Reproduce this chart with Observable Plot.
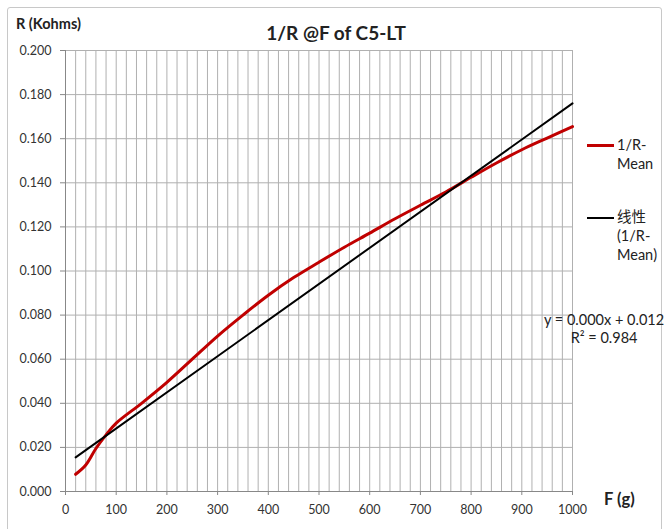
<!DOCTYPE html>
<html>
<head>
<meta charset="utf-8">
<script src="https://cdn.jsdelivr.net/npm/d3@7"></script>
<script src="https://cdn.jsdelivr.net/npm/@observablehq/plot@0.6"></script>
<style>
  html, body { margin: 0; padding: 0; background: #fff; }
  #wrap { position: relative; width: 665px; height: 529px; overflow: hidden; font-family: Lato, "Noto Sans CJK SC", sans-serif; color: #222; }
  #frame { position: absolute; left: 7px; top: 7px; width: 655px; height: 540px; border: 1px solid #c8c8c8; border-radius: 3px; box-sizing: border-box; }
  .abs { position: absolute; white-space: nowrap; }
  #title { left: 0; width: 672px; top: 21px; text-align: center; font-weight: bold; font-size: 19px; }
  #ylab { left: 16px; top: 15px; font-weight: bold; font-size: 14.5px; }
  #xlab { left: 604px; top: 489px; font-weight: bold; font-size: 16.5px; }
  .leg { font-size: 14.5px; line-height: 19px; }
  .sw { position: absolute; height: 0; }
  #eq { left: 544px; top: 311px; font-size: 14.5px; line-height: 18px; text-align: center; }
  svg { position: absolute; left: 0; top: 0; }
</style>
</head>
<body>
<div id="wrap">
  <div id="frame"></div>
</div>
<script>
const forceG = [20, 40, 60, 80, 100, 150, 200, 250, 300, 350, 400, 450, 500, 550, 600, 650, 700, 750, 800, 850, 900, 950, 1000];
const invRMean = [0.0078, 0.0120, 0.0195, 0.0257, 0.0310, 0.0400, 0.0495, 0.0600, 0.0705, 0.0800, 0.0890, 0.0970, 0.1040, 0.1108, 0.1172, 0.1237, 0.1298, 0.1358, 0.1425, 0.1490, 0.1550, 0.1603, 0.1655];
// Linear trend line end points
const trendF = [20, 1000];
const trendR = [0.0155, 0.1760];
// Tick labels
const xTicks = [0, 100, 200, 300, 400, 500, 600, 700, 800, 900, 1000];
const yTicks = [0.000, 0.020, 0.040, 0.060, 0.080, 0.100, 0.120, 0.140, 0.160, 0.180, 0.200];
const xGrid = d3.range(0, 1001, 20);

const meanData = forceG.map((f, i) => ({f, r: invRMean[i]}));
const trendData = trendF.map((f, i) => ({f, r: trendR[i]}));

const chart = Plot.plot({
  width: 665,
  height: 529,
  marginLeft: 65,
  marginRight: 93,
  marginTop: 50,
  marginBottom: 38,
  style: {fontFamily: "Lato, sans-serif", fontSize: "12.5px", color: "#333", background: "transparent"},
  x: {domain: [0, 1000]},
  y: {domain: [0, 0.2]},
  marks: [
    Plot.gridX(xGrid, {stroke: "#b0b0b0", strokeOpacity: 1, strokeWidth: 1}),
    Plot.gridY(yTicks, {stroke: "#b0b0b0", strokeOpacity: 1, strokeWidth: 1}),
    Plot.axisY(yTicks, {tickFormat: d3.format(".3f"), tickSize: 5, tickPadding: 9, stroke: "#888", label: null, fill: "#333"}),
    Plot.axisX(xTicks, {tickFormat: d => String(d), tickSize: 4, tickPadding: 10, stroke: "#888", label: null, fill: "#333"}),
    Plot.ruleY([0], {stroke: "#888", strokeWidth: 1}),
    Plot.ruleX([0], {stroke: "#888", strokeWidth: 1}),
    Plot.line(meanData, {x: "f", y: "r", stroke: "#c00000", strokeWidth: 3, curve: "catmull-rom"}),
    Plot.line(trendData, {x: "f", y: "r", stroke: "#000", strokeWidth: 2})
  ]
});

const wrap = document.getElementById("wrap");
wrap.appendChild(chart);

function addDiv(id, cls, html, style) {
  const d = document.createElement("div");
  if (id) d.id = id;
  d.className = cls;
  d.innerHTML = html;
  if (style) Object.assign(d.style, style);
  wrap.appendChild(d);
  return d;
}
addDiv("title", "abs", "1/R @F of C5-LT");
addDiv("ylab", "abs", "R (Kohms)");
addDiv("xlab", "abs", "F (g)");
// legend
addDiv(null, "sw", "", {left: "587px", top: "144px", width: "27px", borderTop: "3px solid #c00000"});
addDiv(null, "abs leg", "1/R-<br>Mean", {left: "617px", top: "135px"});
addDiv(null, "sw", "", {left: "587px", top: "217px", width: "27px", borderTop: "2.5px solid #000"});
addDiv(null, "abs leg", "线性<br>(1/R-<br>Mean)", {left: "617px", top: "207px"});
// equation
addDiv("eq", "abs", "y = 0.000x + 0.012<br>R² = 0.984");
</script>
</body>
</html>
